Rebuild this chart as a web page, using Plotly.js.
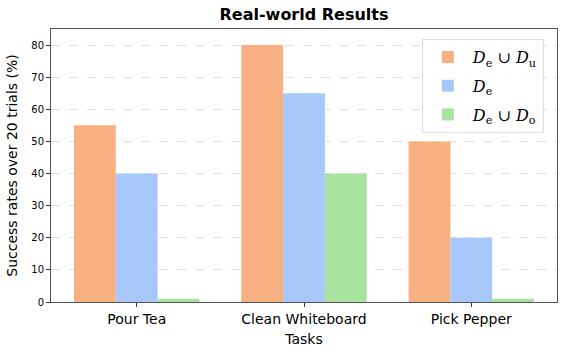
<!DOCTYPE html>
<html>
<head>
<meta charset="utf-8">
<script src="https://cdn.plot.ly/plotly-3.0.1.min.js"></script>
<style>
  body { margin: 0; background: #fff; }
  #chart { width: 563px; height: 355px; }
</style>
</head>
<body>
<div id="chart"></div>
<script>
// data
const tasks = ["Pour Tea", "Clean Whiteboard", "Pick Pepper"];
const seriesNames = [
    "<i>D</i><sub>e</sub> ∪ <i>D</i><sub>u</sub>",
    "<i>D</i><sub>e</sub>",
    "<i>D</i><sub>e</sub> ∪ <i>D</i><sub>o</sub>"
];
const unionU = [55, 80, 50];
const onlyE = [40, 65, 20];
const unionO = [1, 40, 1];
const yTicks = [0, 10, 20, 30, 40, 50, 60, 70, 80];

const colors = ["#f7b082", "#a7c8fa", "#a8e3a0"];
const values = [unionU, onlyE, unionO];

const data = values.map(function (v, i) {
    return {
        x: tasks,
        y: v,
        name: seriesNames[i],
        legendgroup: "g" + i, // separate groups so tracegroupgap spaces the items
        type: "bar",
        marker: { color: colors[i], line: { width: 0 } },
        hoverinfo: "y"
    };
});

const layout = {
    width: 563,
    height: 355,
    margin: { l: 51, r: 6, t: 29, b: 53 },
    paper_bgcolor: "#fff",
    plot_bgcolor: "#fff",
    font: { family: "DejaVu Sans", color: "#000" },
    title: {
        text: "<b>Real-world Results</b>",
        font: { size: 16, family: "DejaVu Sans" },
        x: 0.54, xanchor: "center",
        y: 0.96, yanchor: "middle"
    },
    barmode: "group",
    bargap: 0.25,
    bargroupgap: 0,
    xaxis: {
        title: { text: "Tasks", font: { size: 14 }, standoff: 8 },
        tickfont: { size: 14 },
        range: [-0.5125, 2.5125],
        ticks: "outside", ticklen: 4, tickcolor: "#333",
        showline: true, linecolor: "#555", linewidth: 1, mirror: true,
        showgrid: false
    },
    yaxis: {
        title: { text: "Success rates over 20 trials (%)", font: { size: 14 }, standoff: 10 },
        tickfont: { size: 10 },
        range: [0, 85],
        tickvals: yTicks,
        ticks: "outside", ticklen: 4, tickcolor: "#333",
        showline: true, linecolor: "#555", linewidth: 1, mirror: true,
        showgrid: true, gridcolor: "#d6d6d6", griddash: "dash", gridwidth: 0.8,
        zeroline: false
    },
    legend: {
        x: 0.974, xanchor: "right",
        y: 0.963, yanchor: "top",
        bgcolor: "rgba(255,255,255,0.85)",
        bordercolor: "#ddd", borderwidth: 1,
        font: { size: 16, family: "DejaVu Serif" },
        itemwidth: 40,
        tracegroupgap: 5
    },
    showlegend: true
};

Plotly.newPlot("chart", data, layout, { displayModeBar: false, staticPlot: true });
</script>
</body>
</html>
